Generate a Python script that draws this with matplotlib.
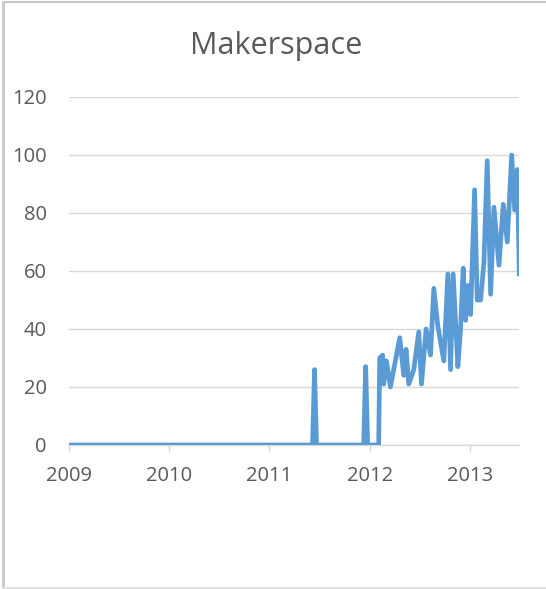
import matplotlib
matplotlib.use("Agg")
import matplotlib.pyplot as plt
from matplotlib.lines import Line2D

title = "Makerspace"
x_ticks = [2009, 2010, 2011, 2012, 2013]
y_ticks = [0, 20, 40, 60, 80, 100, 120]

# decimal-year positions and values
years = [2009.00, 2011.43, 2011.45, 2011.47, 2011.94, 2011.96, 2011.98, 2012.09,
         2012.10, 2012.13, 2012.14, 2012.167, 2012.207, 2012.30, 2012.34, 2012.363,
         2012.39, 2012.44, 2012.49, 2012.517, 2012.563, 2012.607, 2012.64, 2012.68,
         2012.74, 2012.78, 2012.807, 2012.833, 2012.88, 2012.907, 2012.933, 2012.957,
         2012.98, 2013.007, 2013.047, 2013.073, 2013.107, 2013.14, 2013.173, 2013.207,
         2013.24, 2013.29, 2013.333, 2013.373, 2013.417, 2013.447, 2013.473, 2013.493]
values = [0, 0, 26, 0, 0, 27, 0, 0,
          30, 31, 21, 29, 20, 37, 24, 33,
          21, 26, 39, 21, 40, 31, 54, 41,
          29, 59, 26, 59, 27, 40, 61, 43,
          55, 45, 88, 50, 50, 63, 98, 52,
          82, 62, 83, 70, 100, 81, 95, 59]

W, H = 546, 589
fig = plt.figure(figsize=(W / 100, H / 100), dpi=100)
fig.patch.set_facecolor("white")
# chart frame (top, left, bottom edges visible in the reference)
fig.add_artist(Line2D([3 / W, 1], [1 - 1.5 / H, 1 - 1.5 / H], transform=fig.transFigure,
                      color="#C8C8C8", linewidth=1.5))
fig.add_artist(Line2D([3 / W, 3 / W], [1.5 / H, 1 - 1.5 / H], transform=fig.transFigure,
                      color="#C8C8C8", linewidth=2))
fig.add_artist(Line2D([3 / W, 1], [1.5 / H, 1.5 / H], transform=fig.transFigure,
                      color="#E0E0E0", linewidth=1.5))

ax = fig.add_axes([69 / W, 1 - 445 / H, (519 - 69) / W, (445 - 97) / H])
ax.plot(years, values, color="#5B9BD5", linewidth=3.4, solid_joinstyle="round", zorder=3)

ax.set_xlim(2009, 2013.49)
ax.set_ylim(0, 120)
ax.set_xticks(x_ticks)
ax.set_xticklabels([str(t) for t in x_ticks])
ax.set_yticks(y_ticks)
ax.set_yticklabels([str(t) for t in y_ticks])

ax.grid(axis="y", color="#D9D9D9", linewidth=1)
ax.set_axisbelow(True)
for s in ["top", "right", "left"]:
    ax.spines[s].set_visible(False)
ax.spines["bottom"].set_color("#D9D9D9")
ax.spines["bottom"].set_linewidth(1)

font = "Open Sans"
ax.tick_params(axis="y", length=0, pad=16, labelsize=14.5, labelcolor="#595959")
ax.tick_params(axis="x", length=5, width=1, color="#D9D9D9", pad=10, labelsize=14.5,
               labelcolor="#595959")
for lab in ax.get_xticklabels() + ax.get_yticklabels():
    lab.set_fontfamily(font)

fig.text(276 / W, 1 - 46 / H, title, ha="center", va="center", fontsize=22,
         color="#595959", fontfamily=font)

fig.savefig("out.png", dpi=100)
